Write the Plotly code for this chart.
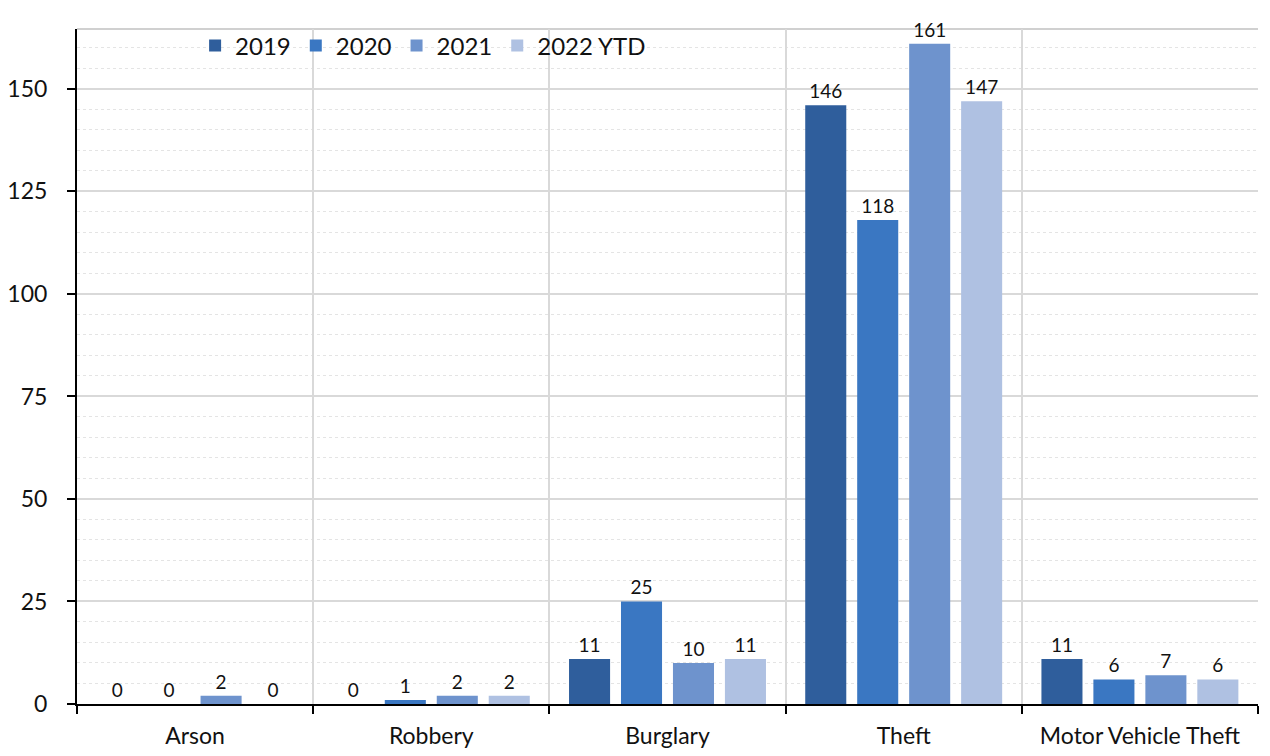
import plotly.graph_objects as go

categories = ["Arson", "Robbery", "Burglary", "Theft", "Motor Vehicle Theft"]
years = ["2019", "2020", "2021", "2022 YTD"]
counts_2019 = [0, 0, 11, 146, 11]
counts_2020 = [0, 1, 25, 118, 6]
counts_2021 = [2, 2, 10, 161, 7]
counts_2022 = [0, 2, 11, 147, 6]

series = [counts_2019, counts_2020, counts_2021, counts_2022]
fills = ["#2F5E9C", "#3A77C2", "#6E93CD", "#AFC1E2"]

font_family = "Lato"

fig = go.Figure()
for name, vals, fc in zip(years, series, fills):
    fig.add_trace(go.Bar(
        x=categories,
        y=vals,
        name=name,
        marker=dict(color=fc, line=dict(width=0)),
        text=[str(v) for v in vals],
        textposition="outside",
        constraintext="none",
        textfont=dict(size=19, color="#111111", family=font_family),
        cliponaxis=False,
    ))

fig.update_layout(
    width=1270,
    height=756,
    margin=dict(l=77, r=12, t=29, b=52, autoexpand=False),
    paper_bgcolor="white",
    plot_bgcolor="white",
    barmode="group",
    bargap=0.12,
    bargroupgap=0.21,
    font=dict(family=font_family, size=23, color="#111111"),
    showlegend=True,
    legend=dict(
        orientation="h",
        x=0.1, y=0.975,
        xanchor="left", yanchor="middle",
        font=dict(size=24, color="#111111"),
        bgcolor="rgba(0,0,0,0)",
        itemwidth=30,
    ),
    xaxis=dict(
        type="category",
        automargin=False,
        tickson="boundaries",
        showgrid=True,
        gridcolor="#D9D9D9",
        gridwidth=1.5,
        showline=True,
        linecolor="#000000",
        linewidth=2,
        ticks="outside",
        ticklen=8,
        tickwidth=1.5,
        tickcolor="#000000",
        tickfont=dict(size=23),
        ticklabelstandoff=10,
        zeroline=False,
    ),
    yaxis=dict(
        range=[0, 164.6],
        automargin=False,
        tickmode="linear",
        tick0=0,
        dtick=25,
        showgrid=True,
        gridcolor="#D9D9D9",
        gridwidth=1.5,
        showline=True,
        linecolor="#000000",
        linewidth=2,
        ticks="outside",
        ticklen=8,
        tickwidth=1.5,
        tickcolor="#000000",
        tickfont=dict(size=23),
        ticklabelstandoff=15,
        zeroline=False,
        minor=dict(
            dtick=5,
            tick0=0,
            showgrid=True,
            gridcolor="#E4E4E4",
            griddash="dot",
            gridwidth=1,
        ),
    ),
    shapes=[
        dict(type="line", xref="paper", yref="paper", x0=0, x1=1, y0=1, y1=1,
             line=dict(color="#D0D0D0", width=2), layer="below"),
    ],
)

fig.write_html("out.html")
